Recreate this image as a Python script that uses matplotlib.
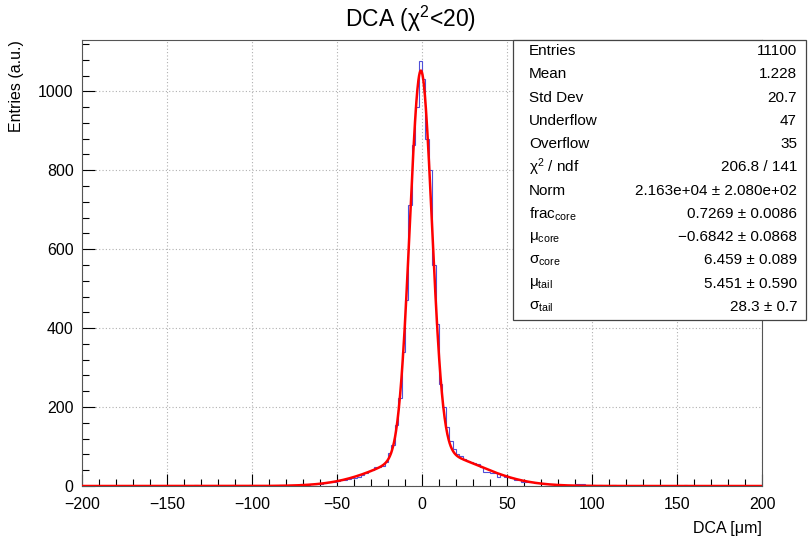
import numpy as np
import matplotlib
matplotlib.use("Agg")
import matplotlib.pyplot as plt
from matplotlib.patches import Rectangle

plt.rcParams['font.family'] = ['Liberation Sans', 'DejaVu Sans']
plt.rcParams['mathtext.fontset'] = 'custom'
plt.rcParams['mathtext.rm'] = 'Liberation Sans'
plt.rcParams['mathtext.it'] = 'Liberation Sans'
plt.rcParams['mathtext.default'] = 'rm'

# ---------------- data ----------------
x_min, x_max, n_bins = -200, 200, 200
counts = [
    0, 0, 0, 0, 0, 0, 0, 0, 0, 0,
    0, 0, 0, 0, 0, 0, 0, 0, 1, 0,
    0, 0, 0, 0, 0, 0, 0, 0, 0, 0,
    0, 0, 0, 2, 0, 0, 0, 0, 0, 1,
    0, 0, 0, 0, 2, 0, 0, 1, 0, 2,
    1, 0, 1, 0, 1, 1, 1, 1, 2, 2,
    1, 2, 2, 2, 4, 3, 3, 4, 4, 6,
    6, 7, 9, 10, 11, 13, 15, 16, 19, 20,
    21, 22, 29, 32, 37, 40, 47, 48, 50, 60,
    83, 104, 154, 223, 340, 471, 711, 863, 960, 1076,
    1030, 878, 800, 560, 410, 258, 200, 150, 115, 95,
    82, 76, 68, 64, 60, 58, 55, 48, 36, 35,
    33, 33, 24, 28, 23, 22, 20, 16, 15, 11,
    10, 9, 9, 8, 8, 7, 6, 4, 4, 3,
    3, 2, 3, 2, 3, 6, 6, 5, 2, 3,
    2, 1, 2, 1, 0, 1, 2, 0, 1, 0,
    0, 1, 0, 0, 2, 0, 0, 0, 0, 0,
    0, 0, 0, 0, 0, 0, 0, 2, 0, 0,
    0, 0, 0, 0, 0, 0, 0, 0, 0, 0,
    0, 0, 0, 0, 0, 0, 0, 0, 0, 0,
]

# fit parameters (double gaussian)
fit_norm = 2.163e4
frac_core = 0.7269
mu_core, sigma_core = -0.6842, 6.459
mu_tail, sigma_tail = 5.451, 28.3

stat_labels = ["Entries", "Mean", "Std Dev", "Underflow", "Overflow",
               r"$\chi^{2}$ / ndf", "Norm", r"frac$_{\rm core}$",
               r"$\mu_{\rm core}$", r"$\sigma_{\rm core}$",
               r"$\mu_{\rm tail}$", r"$\sigma_{\rm tail}$"]
stat_values = ["11100", "1.228", "20.7", "47", "35", "206.8 / 141",
               "2.163e+04 ± 2.080e+02", "0.7269 ± 0.0086",
               "−0.6842 ± 0.0868", "6.459 ± 0.089",
               "5.451 ± 0.590", "28.3 ± 0.7"]

# ---------------- figure ----------------
W, H = 808, 538
fig = plt.figure(figsize=(W / 100, H / 100), dpi=100)
ax = fig.add_axes([82 / W, 1 - 486 / H, (762 - 82) / W, (486 - 40) / H])

edges = np.linspace(x_min, x_max, n_bins + 1)
ax.stairs(counts, edges, color='#5050d8', lw=0.8, zorder=3)

xs = np.linspace(x_min, x_max, 2000)
def gauss(x, m, s):
    return np.exp(-0.5 * ((x - m) / s) ** 2) / (np.sqrt(2 * np.pi) * s)
fit_y = fit_norm * (frac_core * gauss(xs, mu_core, sigma_core)
                    + (1 - frac_core) * gauss(xs, mu_tail, sigma_tail))
ax.plot(xs, fit_y, color='red', lw=1.8, zorder=4)

ax.set_xlim(x_min, x_max)
ax.set_ylim(0, 1130)
ax.set_xticks(np.arange(-200, 201, 50))
ax.set_xticks(np.arange(-200, 201, 10), minor=True)
ax.set_yticks(np.arange(0, 1001, 200))
ax.set_yticks(np.arange(0, 1130, 40), minor=True)
ax.set_xticklabels([f"{v}".replace('-', '−') for v in range(-200, 201, 50)])
ax.tick_params(which='both', direction='in', top=False, right=False,
               labelsize=11.5, width=0.8)
ax.tick_params(which='major', length=9)
ax.tick_params(which='minor', length=5)
ax.tick_params(axis='x', pad=8)
ax.tick_params(axis='y', pad=6)
ax.grid(True, which='major', color='#b0b0b0', ls=(0, (1, 2)), lw=0.8)
for s in ax.spines.values():
    s.set_linewidth(0.8)
    s.set_color('#555555')

fig.text(410 / W, 1 - 19 / H, r"DCA ($\chi^{2}$<20)", ha='center', va='center',
         fontsize=16.5)
fig.text(17 / W, 1 - 40 / H, "Entries (a.u.)", rotation=90, ha='center',
         va='top', fontsize=11.5)
fig.text(762 / W, 1 - 528 / H, "DCA [μm]", ha='right', va='center', fontsize=11.5)

# stats box
bx0, bx1, by0, by1 = 513, 806, 40, 320
fig.add_artist(Rectangle((bx0 / W, 1 - by1 / H), (bx1 - bx0) / W, (by1 - by0) / H,
                         transform=fig.transFigure, facecolor='white',
                         edgecolor='#444444', lw=0.9, zorder=5))
row_y = np.linspace(51, 307, len(stat_labels))
for lab, val, yy in zip(stat_labels, stat_values, row_y):
    fig.text(529 / W, 1 - yy / H, lab, ha='left', va='center', fontsize=11, zorder=6)
    fig.text(797 / W, 1 - yy / H, val, ha='right', va='center', fontsize=11, zorder=6)

fig.savefig("out.png", dpi=100)
